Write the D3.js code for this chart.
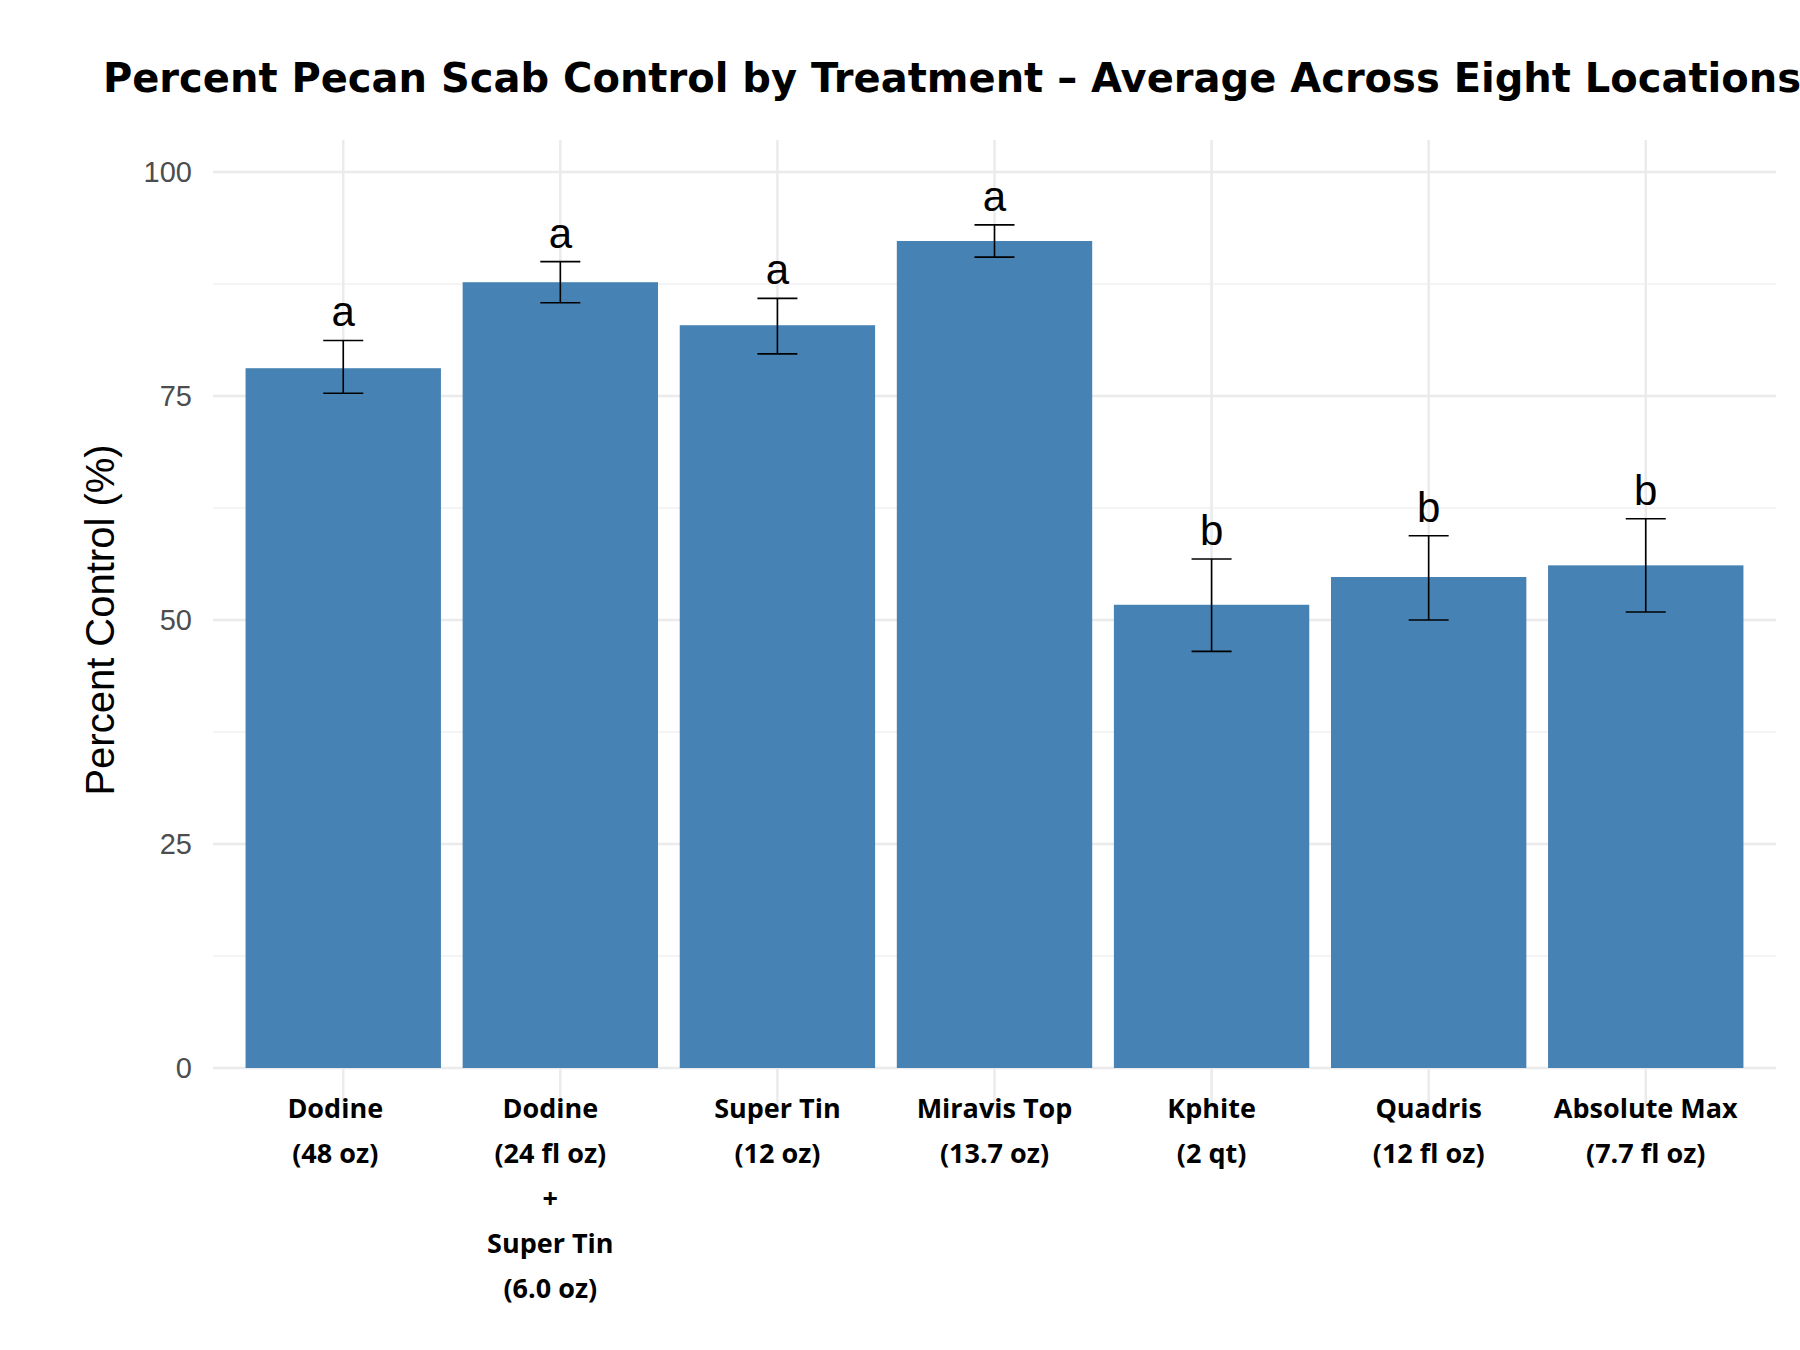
<!DOCTYPE html><html><head><meta charset="utf-8"><script src="https://cdn.jsdelivr.net/npm/d3@7"></script>
<style>body{margin:0;background:#fff}</style></head><body><svg id="c" width="1800" height="1350"></svg>
<script>
const categories=[["Dodine","(48 oz)"],["Dodine","(24 fl oz)","+","Super Tin","(6.0 oz)"],["Super Tin","(12 oz)"],["Miravis Top","(13.7 oz)"],["Kphite","(2 qt)"],["Quadris","(12 fl oz)"],["Absolute Max","(7.7 fl oz)"]];
const values=[78.1,87.7,82.9,92.3,51.7,54.8,56.1];
const lower=[75.3,85.4,79.7,90.5,46.5,50.0,50.9];
const upper=[81.2,90.0,85.9,94.1,56.8,59.4,61.3];
const letters=["a","a","a","a","b","b","b"];
const yTicks=[0,25,50,75,100];
const svg=d3.select("#c");
const L=213,R=1776,T=140,B=1068;
const idx=d3.range(categories.length);
const x=d3.scaleBand().domain(idx).range([L+0.6*(R-L)/7.2,R-0.6*(R-L)/7.2]).paddingInner(0.1).paddingOuter(0.05);
const step=(R-L)/7.2;
const xc=i=>L+0.6*step+i*step;
const bw=0.9*step;
const y=d3.scaleLinear().domain([0,100]).range([B,B-(B-172)]);
const g=svg.append("g");
// minor grid
[12.5,37.5,62.5,87.5].forEach(v=>g.append("line").attr("x1",L).attr("x2",R).attr("y1",y(v)).attr("y2",y(v)).attr("stroke","#f0f0f0").attr("stroke-width",1.5));
yTicks.forEach(v=>g.append("line").attr("x1",L).attr("x2",R).attr("y1",y(v)).attr("y2",y(v)).attr("stroke","#ebebeb").attr("stroke-width",2.5));
idx.forEach(i=>g.append("line").attr("x1",xc(i)).attr("x2",xc(i)).attr("y1",T).attr("y2",B+40).attr("stroke","#ebebeb").attr("stroke-width",2.5));
g.selectAll("rect").data(values).join("rect").attr("x",(d,i)=>xc(i)-bw/2).attr("width",bw).attr("y",d=>y(d)).attr("height",d=>B-y(d)).attr("fill","#4682b4");
idx.forEach(i=>{const c=xc(i),w=20;
 g.append("line").attr("x1",c).attr("x2",c).attr("y1",y(lower[i])).attr("y2",y(upper[i])).attr("stroke","#000").attr("stroke-width",1.6);
 [lower[i],upper[i]].forEach(v=>g.append("line").attr("x1",c-w).attr("x2",c+w).attr("y1",y(v)).attr("y2",y(v)).attr("stroke","#000").attr("stroke-width",1.6));
 g.append("text").attr("x",c).attr("y",y(upper[i])-14).attr("text-anchor","middle").attr("font-family","Liberation Sans, Arial").attr("font-size",42).text(letters[i]);
 categories[i].forEach((t,j)=>g.append("text").attr("x",c-(i==0?8:i==1?10:0)).attr("y",1118+j*45).attr("text-anchor","middle").attr("font-family","Open Sans, Noto Sans").attr("font-weight","bold").attr("font-size",27).text(t));
});
yTicks.forEach(v=>g.append("text").attr("x",192).attr("y",y(v)+10).attr("text-anchor","end").attr("font-family","Liberation Sans, Arial").attr("font-size",29).attr("fill","#4d4d4d").text(v));
svg.append("text").attr("transform","translate(114,"+y(50)+") rotate(-90)").attr("text-anchor","middle").attr("font-family","Liberation Sans, Arial").attr("font-size",40).text("Percent Control (%)");
svg.append("text").attr("x",952).attr("y",92).attr("text-anchor","middle").attr("font-family","DejaVu Sans").attr("font-weight","bold").attr("font-size",40).text("Percent Pecan Scab Control by Treatment – Average Across Eight Locations");
</script></body></html>
